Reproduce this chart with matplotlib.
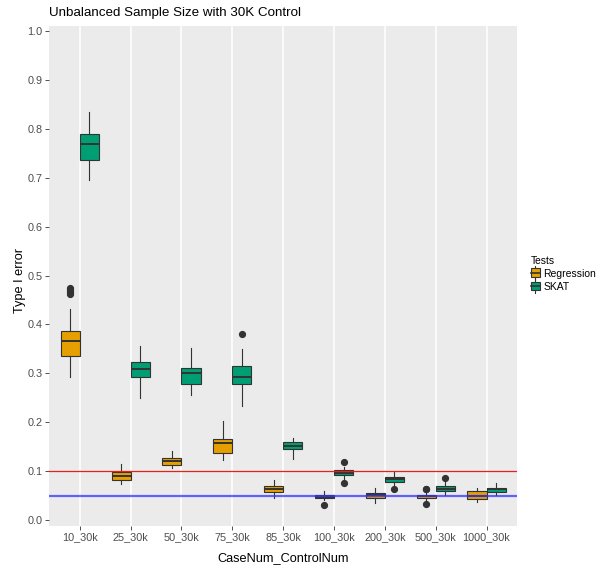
import matplotlib
matplotlib.use("Agg")
import matplotlib.pyplot as plt
from matplotlib.lines import Line2D
from matplotlib.patches import Rectangle
from matplotlib.legend_handler import HandlerBase

plt.rcParams['font.family'] = ['Liberation Sans', 'DejaVu Sans']

categories = ['10_30k', '25_30k', '50_30k', '75_30k', '85_30k',
              '100_30k', '200_30k', '500_30k', '1000_30k']
tests = ['Regression', 'SKAT']

# Regression boxes
reg_whislo = [0.293, 0.074, 0.107, 0.123, 0.046, 0.041, 0.036, 0.041, 0.038]
reg_q1 = [0.336, 0.083, 0.112, 0.137, 0.057, 0.045, 0.046, 0.046, 0.044]
reg_med = [0.367, 0.091, 0.121, 0.157, 0.063, 0.048, 0.051, 0.049, 0.050]
reg_q3 = [0.387, 0.098, 0.128, 0.166, 0.071, 0.052, 0.056, 0.052, 0.059]
reg_whishi = [0.432, 0.116, 0.141, 0.202, 0.082, 0.060, 0.067, 0.056, 0.067]
reg_fliers = [[0.462, 0.466, 0.470, 0.474], [], [], [], [], [0.032], [],
              [0.065, 0.063, 0.033], []]

# SKAT boxes
skat_whislo = [0.696, 0.250, 0.256, 0.233, 0.125, 0.084, 0.071, 0.052, 0.051]
skat_q1 = [0.735, 0.293, 0.278, 0.278, 0.145, 0.092, 0.078, 0.060, 0.057]
skat_med = [0.768, 0.310, 0.301, 0.292, 0.152, 0.0975, 0.084, 0.065, 0.063]
skat_q3 = [0.788, 0.323, 0.312, 0.315, 0.160, 0.103, 0.089, 0.070, 0.067]
skat_whishi = [0.834, 0.357, 0.352, 0.350, 0.168, 0.109, 0.099, 0.078, 0.077]
skat_fliers = [[], [], [], [0.381], [], [0.119, 0.076], [0.063], [0.087], []]

colors = {'Regression': '#E69F00', 'SKAT': '#009E73'}
edge = '#333333'


def make_stats(lo, q1, med, q3, hi, fl):
    return [dict(whislo=a, q1=b, med=c, q3=d, whishi=e, fliers=f)
            for a, b, c, d, e, f in zip(lo, q1, med, q3, hi, fl)]


reg_stats = make_stats(reg_whislo, reg_q1, reg_med, reg_q3, reg_whishi, reg_fliers)
skat_stats = make_stats(skat_whislo, skat_q1, skat_med, skat_q3, skat_whishi, skat_fliers)

fig = plt.figure(figsize=(6.13, 5.71), dpi=100)
ax = fig.add_axes([0.0804, 0.0793, 0.7630, 0.8752])
ax.set_facecolor('#EBEBEB')
for s in ax.spines.values():
    s.set_visible(False)

x = list(range(1, len(categories) + 1))
for xi in x:
    ax.axvline(xi, color='white', lw=1.1, zorder=0)

for name, stats, off in [('Regression', reg_stats, -0.1875), ('SKAT', skat_stats, 0.1875)]:
    ax.bxp(stats, positions=[xi + off for xi in x], widths=0.375,
           patch_artist=True, showfliers=True, manage_ticks=False,
           boxprops=dict(facecolor=colors[name], edgecolor=edge, linewidth=0.8),
           medianprops=dict(color=edge, linewidth=1.4),
           whiskerprops=dict(color=edge, linewidth=0.8),
           capprops=dict(linewidth=0),
           flierprops=dict(marker='o', markersize=4.2, markerfacecolor=edge,
                           markeredgecolor=edge, linestyle='none'),
           zorder=2)

ax.axhline(0.1, color='#E8201A', lw=0.9, zorder=3)
ax.axhline(0.05, color='#3333FF', lw=1.6, alpha=0.75, zorder=3)

ax.set_xlim(0.4, 9.6)
ax.set_ylim(-0.011, 1.0096)
ax.set_xticks(x)
ax.set_xticklabels(categories)
ax.set_yticks([i / 10 for i in range(11)])
ax.set_yticklabels([f'{i / 10:.1f}' for i in range(11)])
ax.tick_params(axis='both', length=2.8, width=0.6, color='#333333',
               labelcolor='#4D4D4D', labelsize=7.8, pad=2)

ax.set_title('Unbalanced Sample Size with 30K Control', loc='left',
             fontsize=9.6, pad=7, color='black')
ax.set_xlabel('CaseNum_ControlNum', fontsize=9.2, labelpad=7)
ax.set_ylabel('Type I error', fontsize=9.2)
ax.yaxis.set_label_coords(-0.05, 0.49)


class BoxKey(HandlerBase):
    def __init__(self, fc):
        super().__init__()
        self.fc = fc

    def create_artists(self, legend, orig_handle, xdescent, ydescent,
                       width, height, fontsize, trans):
        cx = width / 2 - xdescent
        w = min(width, 11)
        top = height * 1.05
        bot = -height * 0.05
        arts = [
            Line2D([cx, cx], [bot - 1.5, top + 1.5], color=edge, lw=0.8),
            Rectangle((cx - w / 2, bot + 0.5), w, top - bot - 1, facecolor=self.fc,
                      edgecolor=edge, lw=0.8),
            Line2D([cx - w / 2, cx + w / 2], [height / 2, height / 2], color=edge, lw=1.2),
        ]
        for a in arts:
            a.set_transform(trans)
        return arts


handles = [Rectangle((0, 0), 1, 1) for _ in tests]
leg = fig.legend(handles, tests, title='Tests', loc='center left',
                 bbox_to_anchor=(0.857, 0.52), frameon=False,
                 fontsize=7.5, title_fontsize=7.4, handlelength=0.95, handleheight=0.95,
                 handletextpad=0.3, labelspacing=0.3, borderpad=0,
                 handler_map={handles[0]: BoxKey(colors['Regression']),
                              handles[1]: BoxKey(colors['SKAT'])})
leg._legend_box.align = 'left'

fig.savefig('out.png', dpi=100)
